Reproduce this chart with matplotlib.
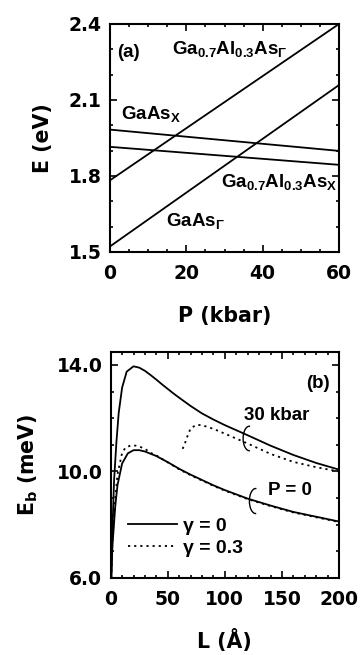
import matplotlib
matplotlib.use('Agg')
import matplotlib.pyplot as plt
from matplotlib.patches import Arc
from matplotlib.ticker import MultipleLocator

plt.rcParams['font.family'] = ['DejaVu Sans']
plt.rcParams['font.weight'] = 'bold'
plt.rcParams['mathtext.fontset'] = 'custom'
plt.rcParams['mathtext.rm'] = 'Liberation Sans:bold'
plt.rcParams['mathtext.it'] = 'Liberation Sans:bold'
plt.rcParams['mathtext.bf'] = 'Liberation Sans:bold'

# (a) band edges vs pressure
pressao = [0, 60]
gaalas_gamma = [1.783, 2.40]
gaas_gamma = [1.522, 2.159]
gaas_x = [1.983, 1.899]
gaalas_x = [1.915, 1.844]

# (b) binding energy vs well width
L_30 = [0.5, 1.5, 3, 5, 7, 10, 14, 20, 25, 30, 35, 40, 45, 50, 55, 60, 70, 80, 90, 100, 120,
        140, 160, 180, 200]
Eb_30 = [6.0, 7.8, 9.7, 11.1, 12.2, 13.15, 13.75, 13.95, 13.9, 13.78, 13.62, 13.45, 13.27,
         13.1, 12.93, 12.77, 12.46, 12.18, 11.95, 11.74, 11.36, 10.97, 10.62, 10.32, 10.07]
L_30_g = [63, 65, 67, 70, 75, 80, 90, 100, 120, 140, 160, 180, 200]
Eb_30_g = [10.85, 11.05, 11.3, 11.62, 11.75, 11.74, 11.6, 11.42, 11.05, 10.66, 10.36, 10.16, 10.0]
L_0 = [0.5, 1.5, 4, 6, 10, 15, 20, 25, 30, 40, 50, 60, 70, 80, 90, 100, 120, 140, 160, 180, 200]
Eb_0 = [6.0, 7.2, 8.7, 9.5, 10.3, 10.68, 10.8, 10.8, 10.75, 10.58, 10.35, 10.1, 9.88, 9.68,
        9.48, 9.3, 8.98, 8.72, 8.48, 8.3, 8.12]
L_0_g = [0.5, 1.5, 4, 6, 10, 13, 18, 22, 26, 30, 35, 40, 50, 60, 70, 80, 90, 100, 120, 140,
         160, 180, 200]
Eb_0_g = [6.0, 7.4, 9.0, 9.9, 10.7, 10.9, 10.98, 10.97, 10.92, 10.85, 10.7, 10.6, 10.34, 10.08,
          9.86, 9.66, 9.46, 9.28, 8.96, 8.70, 8.46, 8.28, 8.10]

fig = plt.figure(figsize=(3.62, 6.55), dpi=100)
ax1 = fig.add_axes([0.3039, 0.6153, 0.6326, 0.3481])
ax2 = fig.add_axes([0.3058, 0.1176, 0.6307, 0.3455])

for ax in (ax1, ax2):
    for s in ax.spines.values():
        s.set_linewidth(1.5)
    ax.tick_params(which='both', direction='in', top=True, right=True, width=1.2)
    ax.tick_params(which='major', length=5)
    ax.tick_params(which='minor', length=2.5)
    ax.tick_params(axis='x', labelsize=13.5, pad=9)
    ax.tick_params(axis='y', labelsize=13.5, pad=6)

txt = dict(fontsize=13.5, va='center', family='Liberation Sans', fontweight='bold')

# painel (a)
ax1.plot(pressao, gaalas_gamma, color='black', lw=1.3)
ax1.plot(pressao, gaas_gamma, color='black', lw=1.3)
ax1.plot(pressao, gaas_x, color='black', lw=1.3)
ax1.plot(pressao, gaalas_x, color='black', lw=1.3)
ax1.set_xlim(0, 60)
ax1.set_ylim(1.5, 2.4)
ax1.xaxis.set_major_locator(MultipleLocator(20))
ax1.xaxis.set_minor_locator(MultipleLocator(5))
ax1.set_yticks([1.5, 1.8, 2.1, 2.4], ['1.5', '1.8', '2.1', '2.4'])
ax1.yaxis.set_minor_locator(MultipleLocator(0.1))
ax1.set_xlabel('P (kbar)', fontsize=14.8, fontweight='bold', labelpad=16)
ax1.set_ylabel('E (eV)', fontsize=14.8, fontweight='bold', labelpad=11)

ax1.text(1.8, 2.287, '(a)', **txt)
ax1.text(16.2, 2.300, r'Ga$_{0.7}$Al$_{0.3}$As$_\Gamma$', **txt)
ax1.text(2.8, 2.045, r'GaAs$_X$', **txt)
ax1.text(29.0, 1.775, r'Ga$_{0.7}$Al$_{0.3}$As$_X$', **txt)
ax1.text(14.8, 1.624, r'GaAs$_\Gamma$', **txt)

# painel (b)
ax2.plot(L_30, Eb_30, color='black', lw=1.3, label='γ = 0')
ax2.plot(L_30_g, Eb_30_g, color='black', lw=1.3, ls=(0, (1.2, 2.2)), label='γ = 0.3')
ax2.plot(L_0, Eb_0, color='black', lw=1.3)
ax2.plot(L_0_g, Eb_0_g, color='black', lw=1.3, ls=(0, (1.2, 2.2)))
ax2.set_xlim(0, 200)
ax2.set_ylim(6, 14.5)
ax2.xaxis.set_major_locator(MultipleLocator(50))
ax2.xaxis.set_minor_locator(MultipleLocator(10))
ax2.set_yticks([6, 10, 14], ['6.0', '10.0', '14.0'])
ax2.yaxis.set_minor_locator(MultipleLocator(1))
ax2.set_xlabel('L (Å)', fontsize=14.8, fontweight='bold', labelpad=14)
ax2.set_ylabel(r'E$_\mathregular{b}$ (meV)', fontsize=14.8, fontweight='bold', labelpad=12)

ax2.text(192, 13.3, '(b)', ha='right', **txt)
ax2.text(116.4, 12.1, '30 kbar', **txt)
ax2.text(137.6, 9.29, 'P = 0', **txt)
ax2.add_patch(Arc((121.5, 11.24), 11, 0.92, theta1=35, theta2=315, color='black', lw=1.0))
ax2.add_patch(Arc((127, 8.89), 11, 0.94, theta1=35, theta2=315, color='black', lw=1.0))

leg = ax2.legend(loc='center left', bbox_to_anchor=(0.043, 0.181), borderaxespad=0,
                 frameon=False, prop={'family': 'Liberation Sans', 'weight': 'bold', 'size': 14},
                 handlelength=2.5, handletextpad=0.3, labelspacing=0.2)

fig.savefig('out.png', dpi=100)
